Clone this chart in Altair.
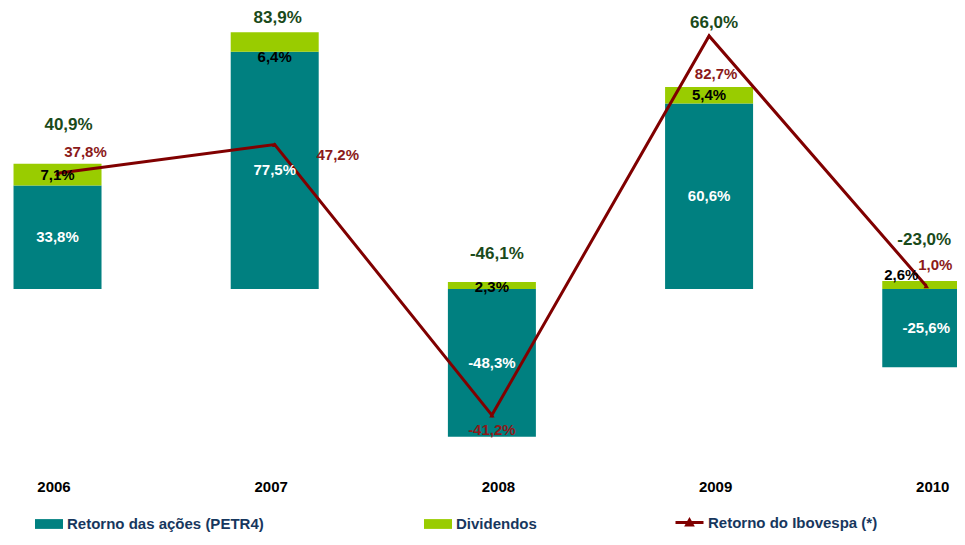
import altair as alt
import pandas as pd

# ---- data ----
years = [2006, 2007, 2008, 2009, 2010]
retorno = [33.8, 77.5, -48.3, 60.6, -25.6]      # Retorno das ações (PETR4)
dividendos = [7.1, 6.4, 2.3, 5.4, 2.6]           # Dividendos
ibovespa = [37.8, 47.2, -41.2, 82.7, 1.0]        # Retorno do Ibovespa (*)
totais = [40.9, 83.9, -46.1, 66.0, -23.0]        # retorno total (ações + dividendos)

s_ret = "Retorno das ações (PETR4)"
s_div = "Dividendos"
s_ibov = "Retorno do Ibovespa (*)"

# ---- style ----
TEAL = "#008080"
GREEN = "#99CC00"
RED = "#800000"
TOT_TXT = "#1A4A1A"
IBOV_TXT = "#8B1A1A"
NAVY = "#17375E"
FONT = "Liberation Sans"

# label nudges in pixels (dx, dy) per year, label placement only
ret_nudge = [(0, 0), (0, 0), (0, 0), (0, 0), (0, 0)]
div_nudge = [(0, 0), (0, 15), (0, 2), (0, 0), (-25, -10)]
tot_nudge = [(11, -39), (3, -14), (5, -28), (5, -64), (-2, -41)]
ibov_nudge = [(28, -21), (63, 10), (0, 15), (7, 38), (9, -21)]


def fmt(v):
    return f"{v:.1f}".replace(".", ",") + "%"


bars = pd.DataFrame({
    "ano": years * 2,
    "serie": [s_ret] * len(years) + [s_div] * len(years),
    "valor": retorno + dividendos,
    "ordem": [0] * len(years) + [1] * len(years),
})

line = pd.DataFrame({"ano": years, "valor": ibovespa, "serie": [s_ibov] * len(years)})

# label anchors derived from the data
lab_rows = []
for i, y in enumerate(years):
    r, d, b, t = retorno[i], dividendos[i], ibovespa[i], totais[i]
    base = max(r, 0)
    lab_rows.append(dict(ano=y, tipo="ret", pos=r / 2, texto=fmt(r)))
    lab_rows.append(dict(ano=y, tipo="div", pos=base + d / 2, texto=fmt(d)))
    lab_rows.append(dict(ano=y, tipo="tot", pos=base + d, texto=fmt(t)))
    lab_rows.append(dict(ano=y, tipo="ibov", pos=b, texto=fmt(b)))
labels = pd.DataFrame(lab_rows)

xscale = alt.Scale(domain=[2005.795, 2010.1185], nice=False, zero=False)
yscale = alt.Scale(domain=[-61.76, 91.83], nice=False, zero=False)

x_axis = alt.Axis(
    values=years, format="d", title=None, domain=False, ticks=False, grid=False,
    labelFont=FONT, labelFontSize=15, labelFontWeight="bold", labelColor="#000000",
    labelPadding=1, labelFlush=False, labelOverlap=False,
    labelOffset={"condition": {"test": "datum.value >= 2008", "value": 6}, "value": -4},
)

X = alt.X("ano:Q", scale=xscale, axis=x_axis)

bar_layer = alt.Chart(bars).mark_bar(size=88, clip=True).encode(
    x=X,
    y=alt.Y("valor:Q", scale=yscale, stack="zero", axis=None),
    order=alt.Order("ordem:Q"),
    color=alt.Color(
        "serie:N",
        scale=alt.Scale(domain=[s_ret, s_div], range=[TEAL, GREEN]),
        legend=alt.Legend(
            title=None, orient="none", legendX=27, legendY=502, direction="horizontal",
            symbolType="M-1,-0.35H1V0.35H-1Z", symbolSize=784, symbolStrokeWidth=0,
            labelFont=FONT, labelFontSize=15, labelFontWeight="bold", labelColor=NAVY,
            labelOffset=4, columnPadding=160, labelLimit=400,
        ),
    ),
)

line_layer = alt.Chart(line).mark_line(strokeWidth=3).encode(
    x=X,
    y=alt.Y("valor:Q", scale=yscale, axis=None),
    stroke=alt.Stroke(
        "serie:N",
        scale=alt.Scale(domain=[s_ibov], range=[RED]),
        legend=alt.Legend(
            title=None, orient="none", legendX=666, legendY=499,
            symbolType="M-1,0H1M-0.2,0.18L0,-0.18L0.2,0.18Z", symbolSize=784,
            symbolStrokeWidth=3, symbolFillColor=RED,
            labelFont=FONT, labelFontSize=15, labelFontWeight="bold", labelColor=NAVY,
            labelOffset=3, labelLimit=400,
        ),
    ),
)

point_layer = alt.Chart(line).mark_point(shape="triangle-up", filled=True, size=30, color=RED, opacity=1).encode(
    x=X,
    y=alt.Y("valor:Q", scale=yscale, axis=None),
)

text_styles = {
    "ret": dict(color="#FFFFFF", fontSize=15, nudge=ret_nudge),
    "div": dict(color="#000000", fontSize=15, nudge=div_nudge),
    "tot": dict(color=TOT_TXT, fontSize=17, nudge=tot_nudge),
    "ibov": dict(color=IBOV_TXT, fontSize=15, nudge=ibov_nudge),
}

text_layers = []
for tipo, st in text_styles.items():
    for i, y in enumerate(years):
        dx, dy = st["nudge"][i]
        sub = labels[(labels["tipo"] == tipo) & (labels["ano"] == y)]
        text_layers.append(
            alt.Chart(sub).mark_text(
                font=FONT, fontSize=st["fontSize"], fontWeight="bold", color=st["color"],
                align="center", baseline="middle", dx=dx, dy=dy,
            ).encode(
                x=X,
                y=alt.Y("pos:Q", scale=yscale, axis=None),
                text="texto:N",
            )
        )

chart = alt.layer(bar_layer, line_layer, point_layer, *text_layers).properties(
    width=949, height=470,
    autosize=alt.AutoSizeParams(type="none"),
    padding={"left": 0, "top": 0, "right": 0, "bottom": 55},
).configure_view(strokeWidth=0).resolve_legend(color="independent", stroke="independent")

chart.save("out.html", embed_options={"renderer": "svg", "actions": False})
